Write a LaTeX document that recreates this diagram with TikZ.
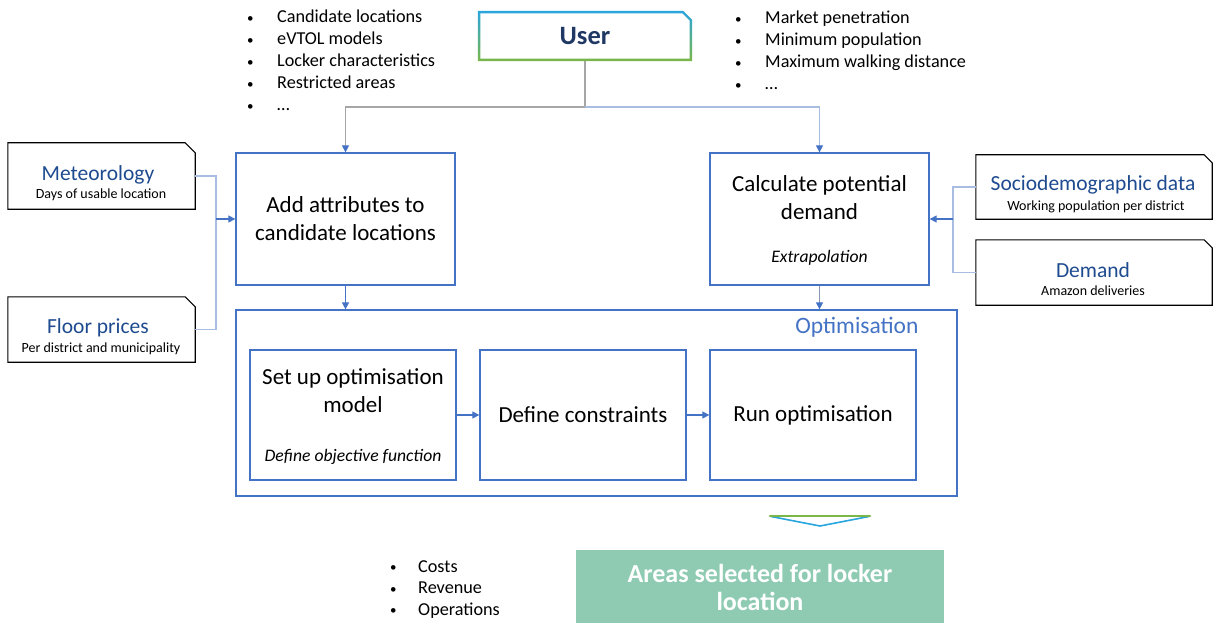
\documentclass[tikz,border=0pt]{standalone}
\usepackage{fontspec}
\setmainfont{Carlito}
\usetikzlibrary{arrows.meta,calc}
\definecolor{boxblue}{HTML}{4472C4}
\definecolor{lineblue}{HTML}{A9BDE3}
\definecolor{linegray}{HTML}{A6A6A6}
\definecolor{titleblue}{HTML}{1E4B8F}
\definecolor{usertext}{HTML}{1F3864}
\definecolor{userblue}{HTML}{2AA6DF}
\definecolor{usergreen}{HTML}{7AB648}
\definecolor{resultgreen}{HTML}{8ECBB2}
\newcommand{\smallbul}{\raisebox{0.5pt}{\fontsize{13}{13}\selectfont •}}
\tikzset{
 procbox/.style={draw=boxblue, line width=1.3pt, minimum width=219pt, minimum height=132pt, inner sep=0pt},
 innerbox/.style={draw=boxblue, line width=1.3pt, minimum width=206pt, minimum height=130pt, inner sep=0pt},
 databox/.style={minimum width=187pt, minimum height=66pt, inner sep=0pt},
 maintext/.style={font=\fontsize{23}{28}\selectfont, align=center, text=black, inner sep=0pt},
 itext/.style={font=\fontsize{17.6}{20}\selectfont\itshape, inner sep=0pt},
 dtitle/.style={font=\fontsize{21.5}{24}\selectfont, text=titleblue, inner sep=0pt},
 dsub/.style={font=\fontsize{14}{16}\selectfont, inner sep=0pt},
 conn/.style={draw=lineblue, line width=1.2pt},
 gconn/.style={draw=linegray, line width=1.2pt},
 arr/.style={-{Triangle[length=7pt,width=7pt,color=boxblue]}},
 bul/.style={font=\fontsize{18.2}{22}\selectfont, anchor=base west, inner sep=0pt},
 chamf/.style={draw=black, line width=1.1pt},
}
\begin{document}
\begin{tikzpicture}[x=1pt,y=-1pt]
\useasboundingbox (0,0) rectangle (1213,623);

% User box
\node[minimum width=214pt, minimum height=50pt, inner sep=0pt] (userbg) at (585,36) {};
\shade[top color=userblue, bottom color=usergreen]
  (userbg.north west) -- ([xshift=-9pt]userbg.north east) -- ([yshift=-9pt]userbg.north east)
  -- (userbg.south east) -- (userbg.south west) -- cycle;
\fill[white]
  ([xshift=2.6pt,yshift=-2.6pt]userbg.north west) -- ([xshift=-10pt,yshift=-2.6pt]userbg.north east)
  -- ([xshift=-2.6pt,yshift=-10pt]userbg.north east)
  -- ([xshift=-2.6pt,yshift=2.6pt]userbg.south east) -- ([xshift=2.6pt,yshift=2.6pt]userbg.south west) -- cycle;
\node[font=\fontsize{26.5}{30}\selectfont\bfseries, text=usertext] (user) at (userbg) {User};

% bullet lists
\foreach \t [count=\i] in {Candidate locations, eVTOL models, Locker characteristics, Restricted areas, \ldots}
  \node[bul] (la\i) at (247, {23+22*(\i-1)}) {\makebox[30pt][l]{\smallbul}\t};
\foreach \t [count=\i] in {Market penetration, Minimum population, Maximum walking distance, \ldots}
  \node[bul] (lb\i) at (735, {24+22*(\i-1)}) {\makebox[30pt][l]{\smallbul}\t};
\foreach \t [count=\i] in {Costs, Revenue, Operations}
  \node[bul] (lc\i) at (390, {572+21.5*(\i-1)}) {\makebox[28pt][l]{\smallbul}\t};

% process boxes
\node[procbox, maintext] (attr) at (345.5,219) {Add attributes to\\candidate locations};
\node[procbox] (calc) at (819.5,219) {};
\node[maintext] (calcT) at (819.5,198) {Calculate potential\\demand};
\node[itext] (calcI) at (819.5,258) {Extrapolation};

% data boxes
\node[databox] (meteo) at (101.5,176) {};
\draw[chamf] (meteo.north west) -- ([xshift=-10pt]meteo.north east) -- ([yshift=-10pt]meteo.north east)
  -- (meteo.south east) -- (meteo.south west) -- cycle;
\node[dtitle] (meteoT) at (98,175) {Meteorology};
\node[dsub] (meteoS) at (101,195) {Days of usable location};

\node[databox, minimum height=65pt] (floor) at (101.5,329.5) {};
\draw[chamf] (floor.north west) -- ([xshift=-10pt]floor.north east) -- ([yshift=-10pt]floor.north east)
  -- (floor.south east) -- (floor.south west) -- cycle;
\node[dtitle] (floorT) at (98,328) {Floor prices};
\node[dsub] (floorS) at (101,349) {Per district and municipality};

\node[databox, minimum width=236pt, minimum height=64pt] (socio) at (1094,187) {};
\draw[chamf] (socio.north west) -- ([xshift=-8pt]socio.north east) -- ([yshift=-8pt]socio.north east)
  -- (socio.south east) -- (socio.south west) -- cycle;
\node[dtitle] (socioT) at (1093,185) {Sociodemographic data};
\node[dsub] (socioS) at (1096,207) {Working population per district};

\node[databox, minimum width=236pt, minimum height=65pt] (dem) at (1094,272.5) {};
\draw[chamf] (dem.north west) -- ([xshift=-8pt]dem.north east) -- ([yshift=-8pt]dem.north east)
  -- (dem.south east) -- (dem.south west) -- cycle;
\node[dtitle] (demT) at (1093,270) {Demand};
\node[dsub] (demS) at (1093,291) {Amazon deliveries};

% optimisation block
\node[draw=boxblue, line width=1.3pt, minimum width=721pt, minimum height=186pt, inner sep=0pt] (opt) at (596.5,403) {};
\node[font=\fontsize{23.5}{26}\selectfont, text=boxblue, anchor=east, inner sep=0pt] (optT) at ([xshift=-39pt,yshift=-18pt]opt.north east) {Optimisation};
\node[innerbox] (setup) at (353,415) {};
\node[maintext] (setupT) at (353,391) {Set up optimisation\\model};
\node[itext] (setupI) at (353,457) {Define objective function};
\node[innerbox, maintext] (cons) at (583,415) {Define constraints};
\node[innerbox, maintext] (run) at (813,415) {Run optimisation};

% result
\fill[white] (770,516) -- (870,516) -- (820,526) -- cycle;
\draw[draw=userblue, line width=1.6pt, line join=round] (771,516.5) -- (820,526) -- (869,516.5);
\draw[draw=usergreen, line width=2.6pt, line cap=round] (770,516) -- (870,516);
\node[fill=resultgreen, minimum width=368pt, minimum height=74pt, inner sep=0pt,
  font=\fontsize{26}{28}\selectfont\bfseries, text=white, align=center] (result) at (760,587)
  {Areas selected for locker\\location};

% connectors
\coordinate (ujoin) at (585,107);
\draw[gconn] (userbg.south) -- (ujoin);
\draw[gconn, arr] (ujoin) -| (attr.north);
\draw[conn, arr] (ujoin) -| (calc.north);

\coordinate (ljoin) at (216,219);
\draw[conn] (meteo.east) -| (ljoin);
\draw[conn] (floor.east) -| (ljoin);
\draw[conn, draw=boxblue, arr] (ljoin) -- (attr.west);

\coordinate (rjoin) at (953,219);
\draw[conn] (socio.west) -| (rjoin);
\draw[conn] (dem.west) -| (rjoin);
\draw[conn, draw=boxblue, arr] (rjoin) -- (calc.east);

\draw[conn, draw=boxblue, arr] (attr.south) -- (attr.south |- opt.north);
\draw[conn, draw=linegray!70!boxblue, arr] (calc.south) -- (calc.south |- opt.north);
\draw[conn, draw=boxblue, arr] (setup.east) -- (cons.west);
\draw[conn, draw=boxblue, arr] (cons.east) -- (run.west);
\end{tikzpicture}
\end{document}
